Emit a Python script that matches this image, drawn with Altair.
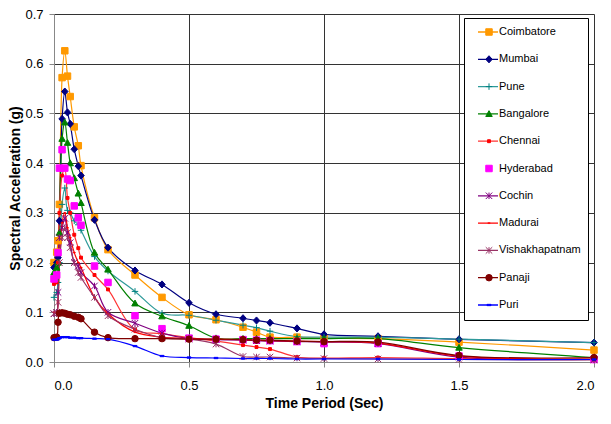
import altair as alt
import pandas as pd

periods = [0, 0.01, 0.015, 0.02, 0.03, 0.04, 0.05, 0.06, 0.075, 0.09, 0.1, 0.15, 0.2,
           0.3, 0.4, 0.5, 0.6, 0.7, 0.75, 0.8, 0.9, 1.0, 1.2, 1.5, 2.0]

cities = ["Coimbatore", "Mumbai", "Pune", "Bangalore", "Chennai", "Hyderabad",
          "Cochin", "Madurai", "Vishakhapatnam", "Panaji", "Puri"]

coimbatore = [0.200, 0.221, 0.244, 0.317, 0.572, 0.626, 0.575, 0.534, 0.473, 0.435, 0.395, 0.290, 0.226,
              0.175, 0.130, 0.095, 0.085, 0.070, 0.060, 0.050, 0.050, 0.048, 0.047, 0.040, 0.024]
mumbai = [0.190, 0.200, 0.210, 0.284, 0.489, 0.544, 0.502, 0.479, 0.428, 0.394, 0.375, 0.286, 0.230,
          0.184, 0.156, 0.119, 0.096, 0.088, 0.0835, 0.079, 0.0676, 0.0557, 0.0517, 0.0457, 0.039]
pune = [0.130, 0.140, 0.160, 0.200, 0.317, 0.350, 0.305, 0.300, 0.284, 0.276, 0.265, 0.212, 0.183,
        0.142, 0.098, 0.094, 0.084, 0.074, 0.069, 0.062, 0.051, 0.050, 0.050, 0.046, 0.039]
bangalore = [0.180, 0.190, 0.200, 0.260, 0.449, 0.482, 0.441, 0.400, 0.370, 0.339, 0.320, 0.220, 0.186,
             0.118, 0.092, 0.073, 0.048, 0.047, 0.047, 0.047, 0.047, 0.047, 0.047, 0.029, 0.009]
chennai = [0.157, 0.160, 0.200, 0.300, 0.375, 0.390, 0.330, 0.300, 0.256, 0.229, 0.210, 0.175, 0.146,
           0.065, 0.057, 0.049, 0.042, 0.034, 0.030, 0.026, 0.010, 0.008, 0.009, 0.007, 0.005]
hyderabad = [0.167, 0.175, 0.220, 0.390, 0.427, 0.390, 0.368, 0.365, 0.314, 0.290, 0.275, 0.193, 0.160,
             0.093, 0.067, 0.048, 0.046, 0.045, 0.044, 0.043, 0.041, 0.037, 0.037, 0.012, 0.005]
cochin = [0.097, 0.100, 0.140, 0.250, 0.270, 0.289, 0.260, 0.240, 0.200, 0.193, 0.180, 0.153, 0.100,
          0.078, 0.058, 0.047, 0.045, 0.044, 0.043, 0.042, 0.041, 0.040, 0.037, 0.010, 0.005]
madurai = [0.100, 0.100, 0.120, 0.200, 0.280, 0.300, 0.270, 0.250, 0.220, 0.200, 0.190, 0.130, 0.097,
           0.060, 0.050, 0.047, 0.046, 0.045, 0.044, 0.043, 0.042, 0.041, 0.038, 0.012, 0.006]
vishakhapatnam = [0.097, 0.100, 0.120, 0.200, 0.250, 0.270, 0.250, 0.230, 0.200, 0.180, 0.170, 0.130, 0.093,
                  0.066, 0.049, 0.046, 0.036, 0.011, 0.010, 0.010, 0.008, 0.007, 0.006, 0.005, 0.004]
panaji = [0.049, 0.050, 0.080, 0.098, 0.099, 0.098, 0.096, 0.095, 0.092, 0.090, 0.087, 0.060, 0.049,
          0.047, 0.047, 0.046, 0.046, 0.045, 0.044, 0.044, 0.042, 0.041, 0.040, 0.013, 0.009]
puri = [0.045, 0.045, 0.046, 0.048, 0.050, 0.050, 0.050, 0.049, 0.049, 0.048, 0.048, 0.047, 0.046,
        0.032, 0.012, 0.009, 0.008, 0.007, 0.007, 0.007, 0.006, 0.006, 0.006, 0.005, 0.005]

values = [coimbatore, mumbai, pune, bangalore, chennai, hyderabad, cochin, madurai,
          vishakhapatnam, panaji, puri]

line_colors = ["#FF9900", "#000080", "#2E9A9A", "#008000", "#FF3333", "rgba(0,0,0,0)",
               "#800080", "#FF0000", "#993366", "#800000", "#0000FF"]
marker_colors = ["#FF9900", "#000080", "#008080", "#008000", "#FF0000", "#FF00FF",
                 "#800080", "#FF0000", "#993366", "#800000", "#0000FF"]
SQ = "M-1,-1L1,-1L1,1L-1,1Z"
marker_shapes = [
    SQ,
    "M0,-1.1L1,0L0,1.1L-1,0Z",
    "M-1,0L1,0M0,-1L0,1",
    "M0,-1L1,0.8L-1,0.8Z",
    "M-0.45,-0.45L0.45,-0.45L0.45,0.45L-0.45,0.45Z",
    SQ,
    "M-1,-1L1,1M-1,1L1,-1M0,-1L0,1",
    "M-0.45,0L0.45,0M0,-0.3L0,0.3",
    "M-1,-1L1,1M-1,1L1,-1M0,-1L0,1",
    "circle",
    "M-0.6,-0.2L0.6,-0.2L0.6,0.2L-0.6,0.2Z",
]
marker_fills = ["#FF9900", "#000080", "rgba(0,0,0,0)", "#008000", "#FF0000", "#FF00FF",
                "rgba(0,0,0,0)", "rgba(0,0,0,0)", "rgba(0,0,0,0)", "#800000", "#0000FF"]

rows = []
for c, vals in zip(cities, values):
    for t, v in zip(periods, vals):
        rows.append({"T": t, "Sa": v, "city": c, "series": c})
df = pd.DataFrame(rows)

FONT = "Liberation Sans"
GRID = "#333333"

xaxis = alt.Axis(values=[0, 0.5, 1.0, 1.5, 2.0], format=".1f", title="Time Period (Sec)",
                 labelFontSize=13, labelPadding=12, tickSize=5, titleFontSize=14,
                 titlePadding=4, titleFontWeight="bold", grid=True, gridColor=GRID,
                 gridOpacity=1, gridWidth=1)
yaxis = alt.Axis(values=[0, 0.1, 0.2, 0.3, 0.4, 0.5, 0.6, 0.7], format=".1f",
                 title="Spectral Acceleration (g)", labelFontSize=13, labelPadding=6,
                 tickSize=5, titleFontSize=14, titlePadding=2, titleFontWeight="bold",
                 grid=True, gridColor=GRID, gridOpacity=1, gridWidth=1)

x = alt.X("T:Q", scale=alt.Scale(domain=[0, 2], nice=False), axis=xaxis)
y = alt.Y("Sa:Q", scale=alt.Scale(domain=[0, 0.7], nice=False), axis=yaxis)

line_legend = alt.Legend(orient="none", legendX=410, legendY=4, title=None,
                         symbolType="stroke", symbolSize=400, symbolStrokeWidth=1.3,
                         padding=7, rowPadding=13.3, clipHeight=14, symbolOffset=6,
                         labelOffset=0, labelFontSize=11, labelFont=FONT, labelColor="black",
                         strokeColor="black", fillColor="white", zindex=0)
pt_legend = alt.Legend(orient="none", legendX=416.5, legendY=4, title=None,
                       symbolSize=42, symbolStrokeWidth=1, padding=7, rowPadding=13.3,
                       clipHeight=14, symbolOffset=6, labelOffset=0, labelFontSize=11,
                       labelFont=FONT, labelExpr="''", zindex=1)

lines = alt.Chart(df).mark_line(interpolate="catmull-rom", strokeWidth=1.2).encode(
    x=x, y=y,
    color=alt.Color("series:N", sort=cities, scale=alt.Scale(range=line_colors), legend=line_legend),
)

points = alt.Chart(df).mark_point(size=42, opacity=1, strokeWidth=1).encode(
    x=x, y=y,
    fill=alt.Fill("city:N", scale=alt.Scale(domain=cities, range=marker_fills), legend=pt_legend),
    stroke=alt.Stroke("city:N", scale=alt.Scale(domain=cities, range=marker_colors), legend=pt_legend),
    shape=alt.Shape("city:N", scale=alt.Scale(domain=cities, range=marker_shapes), legend=pt_legend),
)

chart = alt.layer(lines, points).properties(
    width=540, height=348,
    autosize=alt.AutoSizeParams(type="none"),
    padding={"left": 46, "top": 6, "right": 9, "bottom": 49},
).configure_view(stroke="#808080", strokeWidth=1).configure_axis(
    labelFont=FONT, titleFont=FONT, labelColor="black", titleColor="black",
    domainColor="black", tickColor="black",
).configure(font=FONT)

chart.save("out.html", embed_options={"renderer": "svg", "actions": False})
